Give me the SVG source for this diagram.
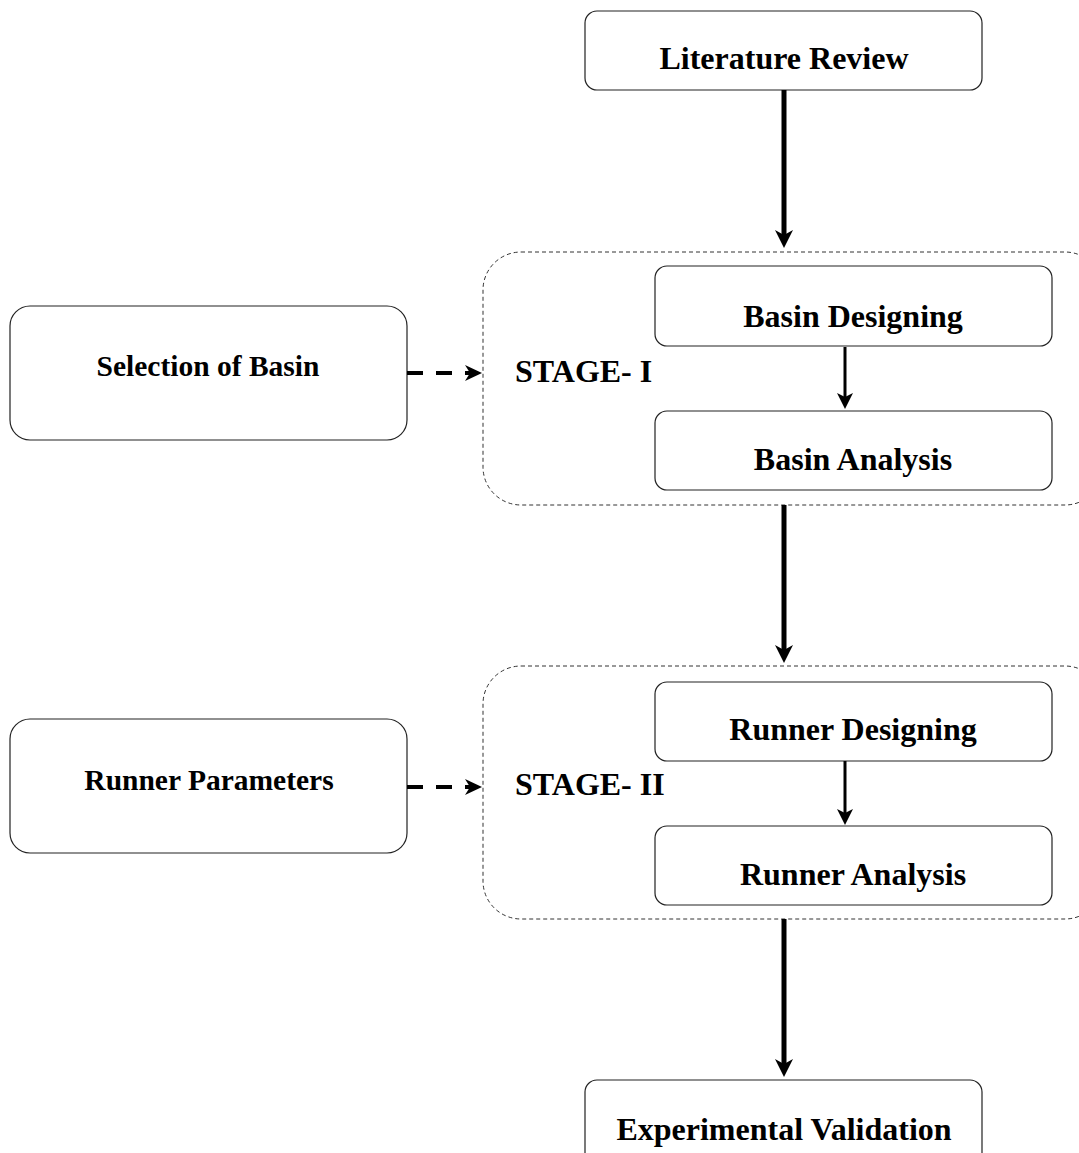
<svg xmlns="http://www.w3.org/2000/svg" width="1079" height="1153" viewBox="0 0 1079 1153">
<style>
.box{fill:#fff;stroke:#222;stroke-width:1.2}
.cont{fill:none;stroke:#333;stroke-width:1;stroke-dasharray:4 3}
.t{font-family:"Liberation Serif","Times New Roman",serif;font-weight:bold;font-size:32px;fill:#000;text-anchor:middle}
.ts{font-size:29.5px}
.tl{text-anchor:start}
.main{stroke:#000;stroke-width:5;fill:none}
.inner{stroke:#000;stroke-width:3;fill:none}
.dash{stroke:#000;stroke-width:4;fill:none;stroke-dasharray:16 13}
</style>
<defs>
<marker id="hBig" markerUnits="userSpaceOnUse" markerWidth="18" markerHeight="18" viewBox="0 0 18 18" refX="8" refY="9" orient="auto">
<path d="M0,0 L18,9 L0,18 L5,9 Z" fill="#000"/>
</marker>
<marker id="hMid" markerUnits="userSpaceOnUse" markerWidth="16" markerHeight="16" viewBox="0 0 16 16" refX="7" refY="8" orient="auto">
<path d="M0,0 L16,8 L0,16 L4,8 Z" fill="#000"/>
</marker>
<marker id="hDash" markerUnits="userSpaceOnUse" markerWidth="17" markerHeight="16" viewBox="0 0 17 16" refX="7" refY="8" orient="auto">
<path d="M0,0 L17,8 L0,16 L5,8 Z" fill="#000"/>
</marker>
</defs>

<g id="stage1">
<rect class="cont" x="483" y="252" width="620" height="253" rx="38"/>
<text class="t tl" x="515" y="382">STAGE- I</text>
</g>
<g id="stage2">
<rect class="cont" x="483" y="666" width="620" height="253" rx="38"/>
<text class="t tl" x="515" y="795">STAGE- II</text>
</g>

<g id="literature-review">
<rect class="box" x="585" y="11" width="397" height="79" rx="12"/>
<text class="t" x="784" y="69">Literature Review</text>
</g>
<g id="selection-of-basin">
<rect class="box" x="10" y="306" width="397" height="134" rx="20"/>
<text class="t ts" x="208" y="376">Selection of Basin</text>
</g>
<g id="basin-designing">
<rect class="box" x="655" y="266" width="397" height="80" rx="12"/>
<text class="t" x="853" y="327">Basin Designing</text>
</g>
<g id="basin-analysis">
<rect class="box" x="655" y="411" width="397" height="79" rx="12"/>
<text class="t" x="853" y="470">Basin Analysis</text>
</g>
<g id="runner-parameters">
<rect class="box" x="10" y="719" width="397" height="134" rx="20"/>
<text class="t ts" x="209" y="790">Runner Parameters</text>
</g>
<g id="runner-designing">
<rect class="box" x="655" y="682" width="397" height="79" rx="12"/>
<text class="t" x="853" y="740">Runner Designing</text>
</g>
<g id="runner-analysis">
<rect class="box" x="655" y="826" width="397" height="79" rx="12"/>
<text class="t" x="853" y="885">Runner Analysis</text>
</g>
<g id="experimental-validation">
<rect class="box" x="585" y="1080" width="397" height="90" rx="12"/>
<text class="t" x="784" y="1140">Experimental Validation</text>
</g>

<g id="connectors">
<path class="main" d="M784,90 L784,238" marker-end="url(#hBig)"/>
<path class="main" d="M784,505 L784,653" marker-end="url(#hBig)"/>
<path class="main" d="M784,919 L784,1067" marker-end="url(#hBig)"/>
<path class="inner" d="M845,347 L845,400" marker-end="url(#hMid)"/>
<path class="inner" d="M845,761 L845,816" marker-end="url(#hMid)"/>
<path class="dash" d="M407,373 L472,373" marker-end="url(#hDash)"/>
<path class="dash" d="M407,787 L472,787" marker-end="url(#hDash)"/>
</g>
</svg>
